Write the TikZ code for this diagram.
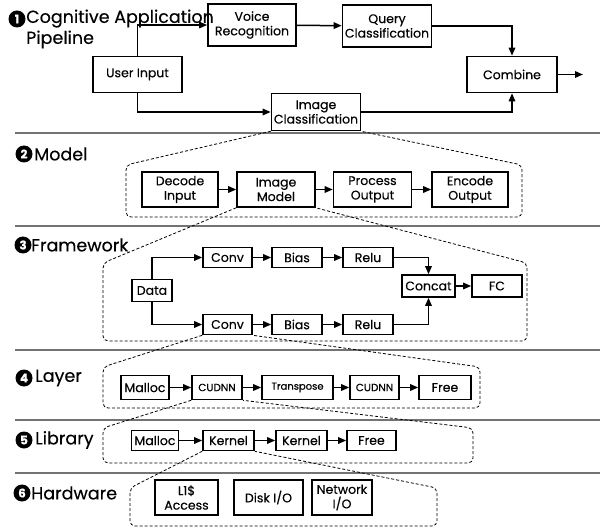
\documentclass[tikz,border=0pt]{standalone}
\usepackage{fontspec}
\setmainfont{Poppins}[FakeBold=0.3]
\usetikzlibrary{arrows.meta}
\tikzset{
  box/.style={draw, line width=1.6pt, align=center, inner sep=0pt, font=\fontsize{12.5}{14.5}\selectfont},
  arr/.style={-{Triangle[length=8pt,width=6.5pt]}, line width=1.5pt},
  zoomline/.style={dashed, dash pattern=on 3pt off 2pt, line width=0.8pt, rounded corners=5pt},
  sepline/.style={draw=black!55, line width=1.6pt},
  numc/.style={circle, fill=black, text=white, inner sep=0pt, minimum size=17pt, font=\fontsize{12}{12}\selectfont\bfseries},
  sect/.style={anchor=west, inner sep=0pt, font=\fontsize{17.5}{21}\selectfont, align=left}
}
\begin{document}
\begin{tikzpicture}[x=1pt, y=-1pt]
\useasboundingbox (0,0) rectangle (602,529);

% separators
\coordinate (s1a) at (15,133); \coordinate (s1b) at (600,133);
\coordinate (s2a) at (15,226); \coordinate (s2b) at (600,226);
\coordinate (s3a) at (15,350); \coordinate (s3b) at (600,350);
\coordinate (s4a) at (15,420); \coordinate (s4b) at (600,420);
\coordinate (s5a) at (15,473); \coordinate (s5b) at (600,473);
\draw[sepline] (s1a) -- (s1b);
\draw[sepline] (s2a) -- (s2b);
\draw[sepline] (s3a) -- (s3b);
\draw[sepline] (s4a) -- (s4b);
\draw[sepline] (s5a) -- (s5b);

% ---- Section 1
\node[numc] (n1) at (17,19) {1};
\node[sect] (t1) at (26,29) {Cognitive Application\\Pipeline};
\node[box, minimum width=88pt, minimum height=42pt] (voice) at (252,25) {Voice\\Recognition};
\node[box, minimum width=89pt, minimum height=42pt] (query) at (387,26) {Query\\Classification};
\node[box, minimum width=89pt, minimum height=36pt] (ui) at (137.5,74.5) {User Input};
\node[box, minimum width=90pt, minimum height=36pt] (comb) at (512,74.5) {Combine};
\node[box, minimum width=89pt, minimum height=37pt] (img) at (316,112) {Image\\Classification};
\coordinate (out) at (583,74.5);
\draw[arr] (ui.north) |- (voice.west);
\draw[arr] (voice) -- (query);
\draw[arr] (query.east) -| (comb.north);
\draw[arr] (ui.south) |- (img.west);
\draw[arr] (img.east) -| (comb.south);
\draw[arr] (comb.east) -- (out);

% ---- Section 2
\node[numc] (n2) at (24,154) {2};
\node[sect] (t2) at (34,154) {Model};
\draw[zoomline] (img.south west) -- (126,165) -- (126,217) -- (522,217) -- (522,165) -- (img.south east);
\node[box, minimum width=76pt, minimum height=35pt] (dec) at (180,189.5) {Decode\\Input};
\node[box, minimum width=78pt, minimum height=35pt] (imod) at (276,189.5) {Image\\Model};
\node[box, minimum width=78pt, minimum height=35pt] (proc) at (372.5,189.5) {Process\\Output};
\node[box, minimum width=76pt, minimum height=35pt] (enc) at (470,189.5) {Encode\\Output};
\draw[arr] (dec) -- (imod);
\draw[arr] (imod) -- (proc);
\draw[arr] (proc) -- (enc);

% ---- Section 3
\node[numc] (n3) at (23,245) {3};
\node[sect] (t3) at (31,245) {Framework};
\draw[zoomline] (imod.south west) -- (103,263) -- (103,341) -- (527,341) -- (527,263) -- (imod.south east);
\node[box, minimum width=40pt, minimum height=22pt] (data) at (152,290.5) {Data};
\node[box, minimum width=49pt, minimum height=20pt] (conv1) at (227.5,257.5) {Conv};
\node[box, minimum width=50pt, minimum height=20pt] (bias1) at (297,257.5) {Bias};
\node[box, minimum width=50pt, minimum height=20pt] (relu1) at (368,257.5) {Relu};
\node[box, minimum width=49pt, minimum height=20pt] (conv2) at (227.5,324.5) {Conv};
\node[box, minimum width=50pt, minimum height=20pt] (bias2) at (297,324.5) {Bias};
\node[box, minimum width=50pt, minimum height=20pt] (relu2) at (368,324.5) {Relu};
\node[box, minimum width=53pt, minimum height=22pt] (concat) at (428.5,286) {Concat};
\node[box, minimum width=50pt, minimum height=22pt] (fc) at (497,286) {FC};
\draw[arr] (data.north) |- (conv1.west);
\draw[arr] (data.south) |- (conv2.west);
\draw[arr] (conv1) -- (bias1);
\draw[arr] (bias1) -- (relu1);
\draw[arr] (conv2) -- (bias2);
\draw[arr] (bias2) -- (relu2);
\draw[arr] (relu1.east) -| (concat.north);
\draw[arr] (relu2.east) -| (concat.south);
\draw[arr] (concat) -- (fc);

% ---- Section 4
\node[numc] (n4) at (24,378) {4};
\node[sect] (t4) at (35,378) {Layer};
\draw[zoomline] (conv2.south west) -- (103,367) -- (103,408) -- (480,408) -- (480,367) -- (conv2.south east);
\node[box, minimum width=48pt, minimum height=24pt] (mal1) at (145,387.5) {Malloc};
\node[box, minimum width=50pt, minimum height=24pt, font=\fontsize{10.5}{12}\selectfont] (cud1) at (217,387.5) {CUDNN};
\node[box, minimum width=71pt, minimum height=24pt, font=\fontsize{10}{12}\selectfont] (trans) at (297.5,387.5) {Transpose};
\node[box, minimum width=49pt, minimum height=24pt, font=\fontsize{10.5}{12}\selectfont] (cud2) at (374.5,387.5) {CUDNN};
\node[box, minimum width=52pt, minimum height=24pt] (free1) at (445,387.5) {Free};
\draw[arr] (mal1) -- (cud1);
\draw[arr] (cud1) -- (trans);
\draw[arr] (trans) -- (cud2);
\draw[arr] (cud2) -- (free1);

% ---- Section 5
\node[numc] (n5) at (24,440) {5};
\node[sect] (t5) at (35,440) {Library};
\draw[zoomline] (cud1.south west) -- (103,428) -- (103,463) -- (473,463) -- (473,428) -- (cud1.south east);
\node[box, minimum width=47pt, minimum height=20pt] (mal2) at (155,440.5) {Malloc};
\node[box, minimum width=51pt, minimum height=20pt] (ker1) at (228.5,440.5) {Kernel};
\node[box, minimum width=51pt, minimum height=20pt] (ker2) at (301.5,440.5) {Kernel};
\node[box, minimum width=49pt, minimum height=20pt] (free2) at (371.5,440.5) {Free};
\draw[arr] (mal2) -- (ker1);
\draw[arr] (ker1) -- (ker2);
\draw[arr] (ker2) -- (free2);

% ---- Section 6
\node[numc] (n6) at (22,493) {6};
\node[sect] (t6) at (31,493) {Hardware};
\draw[zoomline] (ker1.south west) -- (130,488) -- (130,526) -- (437,526) -- (437,488) -- (ker1.south east);
\node[box, minimum width=63pt, minimum height=35pt] (l1) at (186.5,497.5) {L1\$\\Access};
\node[box, minimum width=69pt, minimum height=35pt] (disk) at (268.5,497.5) {Disk I/O};
\node[box, minimum width=60pt, minimum height=35pt] (net) at (342,497.5) {Network\\I/O};
\end{tikzpicture}
\end{document}
